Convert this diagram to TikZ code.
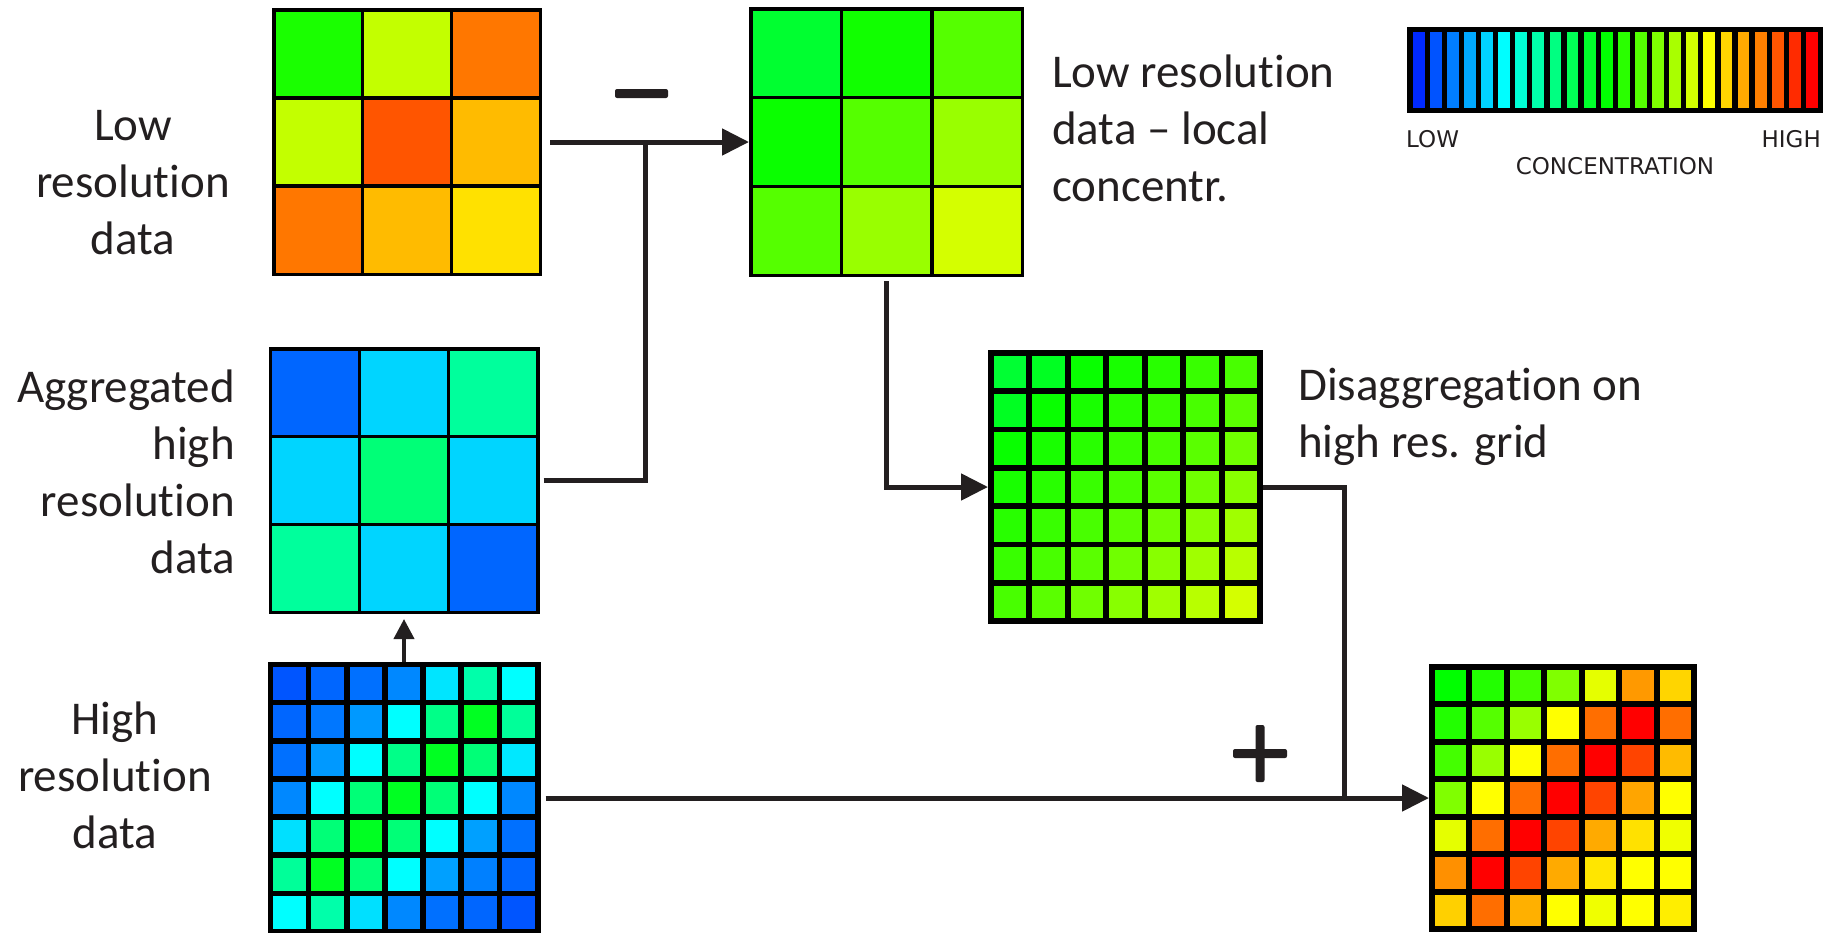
\documentclass[tikz,border=0pt]{standalone}
\usepackage{fontspec}
\setmainfont{Carlito}[Ligatures=NoCommon]
\newfontfamily\scalefont{DejaVu Sans}
\usetikzlibrary{positioning,arrows.meta}

\definecolor{ink}{HTML}{231F20}

% grid node filled with coloured cells
% #1 name, #2 centre, #3 cells per side, #4 width, #5 height, #6 gap, #7 colours (row by row)
\newcommand{\heatgrid}[7]{%
  \node[grid, minimum width=#4pt, minimum height=#5pt] (#1) at (#2) {};
  \begin{scope}[shift={(#1.north west)}]
    \pgfmathsetmacro\cellw{(#4-(#3+1)*#6)/#3}
    \pgfmathsetmacro\cellh{(#5-(#3+1)*#6)/#3}
    \foreach \hex [count=\k from 0] in {#7} {
      \pgfmathtruncatemacro\row{floor(\k/#3)}
      \pgfmathtruncatemacro\col{mod(\k,#3)}
      \edef\setcell{\noexpand\definecolor{cellcol}{HTML}{\hex}}\setcell
      \fill[cellcol] ({#6+\col*(\cellw+#6)},{#6+\row*(\cellh+#6)}) rectangle ++(\cellw,\cellh);
    }
  \end{scope}}

\begin{document}
\begin{tikzpicture}[
    x=1pt, y=-1pt,
    grid/.style={
        fill=black,
        inner sep=0pt,
        outer sep=0pt
    },
    flow/.style={
        draw=ink,
        line width=5pt
    },
    flowarrow/.style={
        flow,
        -{Triangle[length=27pt,width=26pt]}
    },
    lbl/.style={
        font=\fontsize{47}{57}\selectfont,
        text=ink,
        inner sep=0pt
    },
    scalelbl/.style={
        font=\scalefont\fontsize{23}{26}\selectfont,
        text=ink,
        inner sep=0pt
    }
]
\useasboundingbox (0,0) rectangle (1841,932);

% Grids
\heatgrid{lowres}{407,142}{3}{270}{268}{3.5}{1AFF00,C3FF00,FF7700,C3FF00,FF5500,FFBB00,FF7700,FFBB00,FFE100}
\heatgrid{localc}{886.5,142}{3}{275}{270}{3.5}{00FF30,11FF00,55FF00,0AFF00,55FF00,99FF00,55FF00,99FF00,D4FF00}
\heatgrid{aggr}{404,480.5}{3}{271}{267}{3.5}{0066FF,00D5FF,00FF9C,00D5FF,00FF77,00D5FF,00FF9C,00D5FF,0066FF}
\heatgrid{highres}{404,798}{7}{273}{273}{5.7}{%
  0055FF,0066FF,0070FF,0088FF,00E5FF,00FFAA,00FFFF,
  0066FF,0077FF,0099FF,00FFFF,00FF88,00FF22,00FF99,
  0070FF,0099FF,00FFFF,00FF88,00FF22,00FF77,00E8FF,
  0088FF,00FFFF,00FF77,00FF22,00FF77,00FFFF,0088FF,
  00E0FF,00FF77,00FF22,00FF77,00FFFF,00A0FF,0070FF,
  00FF99,00FF22,00FF77,00FFFF,00A0FF,0080FF,0066FF,
  00FFFF,00FFAA,00E0FF,0088FF,0070FF,0066FF,0055FF}
\heatgrid{disagg}{1125.5,487}{7}{275}{274}{5.7}{%
  00FF33,00FF22,08FF00,18FF00,28FF00,38FF00,48FF00,
  00FF22,08FF00,18FF00,28FF00,38FF00,48FF00,5AFF00,
  08FF00,18FF00,28FF00,38FF00,48FF00,5AFF00,70FF00,
  18FF00,28FF00,38FF00,48FF00,5AFF00,70FF00,88FF00,
  28FF00,38FF00,48FF00,5AFF00,70FF00,88FF00,A0FF00,
  38FF00,48FF00,5AFF00,70FF00,88FF00,A0FF00,B8FF00,
  48FF00,5AFF00,70FF00,88FF00,A0FF00,B8FF00,D4FF00}
\heatgrid{result}{1563,798}{7}{268}{268}{5.7}{%
  00FF00,22FF00,44FF00,80FF00,E5FF00,FF9900,FFD500,
  22FF00,55FF00,99FF00,FFFF00,FF6E00,FF0000,FF6E00,
  44FF00,99FF00,FFFF00,FF6E00,FF0000,FF4400,FFBB00,
  80FF00,FFFF00,FF6E00,FF0000,FF4400,FFA500,FFFF00,
  E5FF00,FF6E00,FF0000,FF4400,FFAA00,FFE100,F0FF00,
  FF9000,FF0000,FF4400,FFAA00,FFE600,FFFF00,FFFF00,
  FFD000,FF6E00,FFB000,FFFF00,F0FF00,FFFF00,FFEE00}

% Colour scale
\node[grid, minimum width=416pt, minimum height=86pt] (colorbar) at (1615,70) {};
\begin{scope}[shift={(colorbar.north west)}]
  \foreach \k in {0,...,23} {
    \pgfmathsetmacro\hue{0.64*(23-\k)/23}
    \edef\setbar{\noexpand\definecolor{barcol}{hsb}{\hue,1,1}}\setbar
    \fill[barcol] ({5.7+\k*17.1},5) rectangle ++(11.8,76);
  }
\end{scope}
\node[scalelbl, anchor=west] (lowtxt) at (1406,139) {LOW};
\node[scalelbl, anchor=east] (hightxt) at (1821,139) {HIGH};
\node[scalelbl] (conctxt) at (1615,166) {CONCENTRATION};

% Labels
\node[lbl, align=center] (lowlbl) at (133,182.5) {Low\\resolut\kern0pt ion\\data};
\node[lbl, align=right, anchor=east] (agglbl) at (235,472) {Aggregated\\high\\resolut\kern0pt ion\\data};
\node[lbl, align=center] (highlbl) at (115,775) {High\\resolut\kern0pt ion\\data};
\node[lbl, align=left, anchor=west] (locallbl) at (1052,128.5) {Low resolut\kern0pt ion\\data – local\\concentr.};
\node[lbl, align=left, anchor=west] (disagglbl) at (1298,417) {Disaggregat\kern0pt ion on\\high res. grid};

% Connectors
\coordinate (merge) at (645,142);
\coordinate (join) at (1344,798);
\draw[flowarrow, shorten <=8pt] (lowres.east) -- (localc.west);
\draw[flow, shorten <=4pt] (aggr.east) -| (merge);
\draw[flowarrow, shorten <=4pt] (localc.south) |- (disagg.west);
\draw[flow] (disagg.east) -| (join);
\draw[flowarrow, shorten <=5pt] (highres.east) -- (result.west);
\draw[flow, line width=4pt, -{Triangle[length=20pt,width=20pt]}, shorten >=5pt] (highres.north) -- (aggr.south);

% Signs
\fill[ink, rounded corners=2pt] (615,89) rectangle (668,98);
\fill[ink, rounded corners=2pt] (1233,749) rectangle (1287,758);
\fill[ink, rounded corners=2pt] (1255.5,725) rectangle (1264.5,782);

\end{tikzpicture}
\end{document}
